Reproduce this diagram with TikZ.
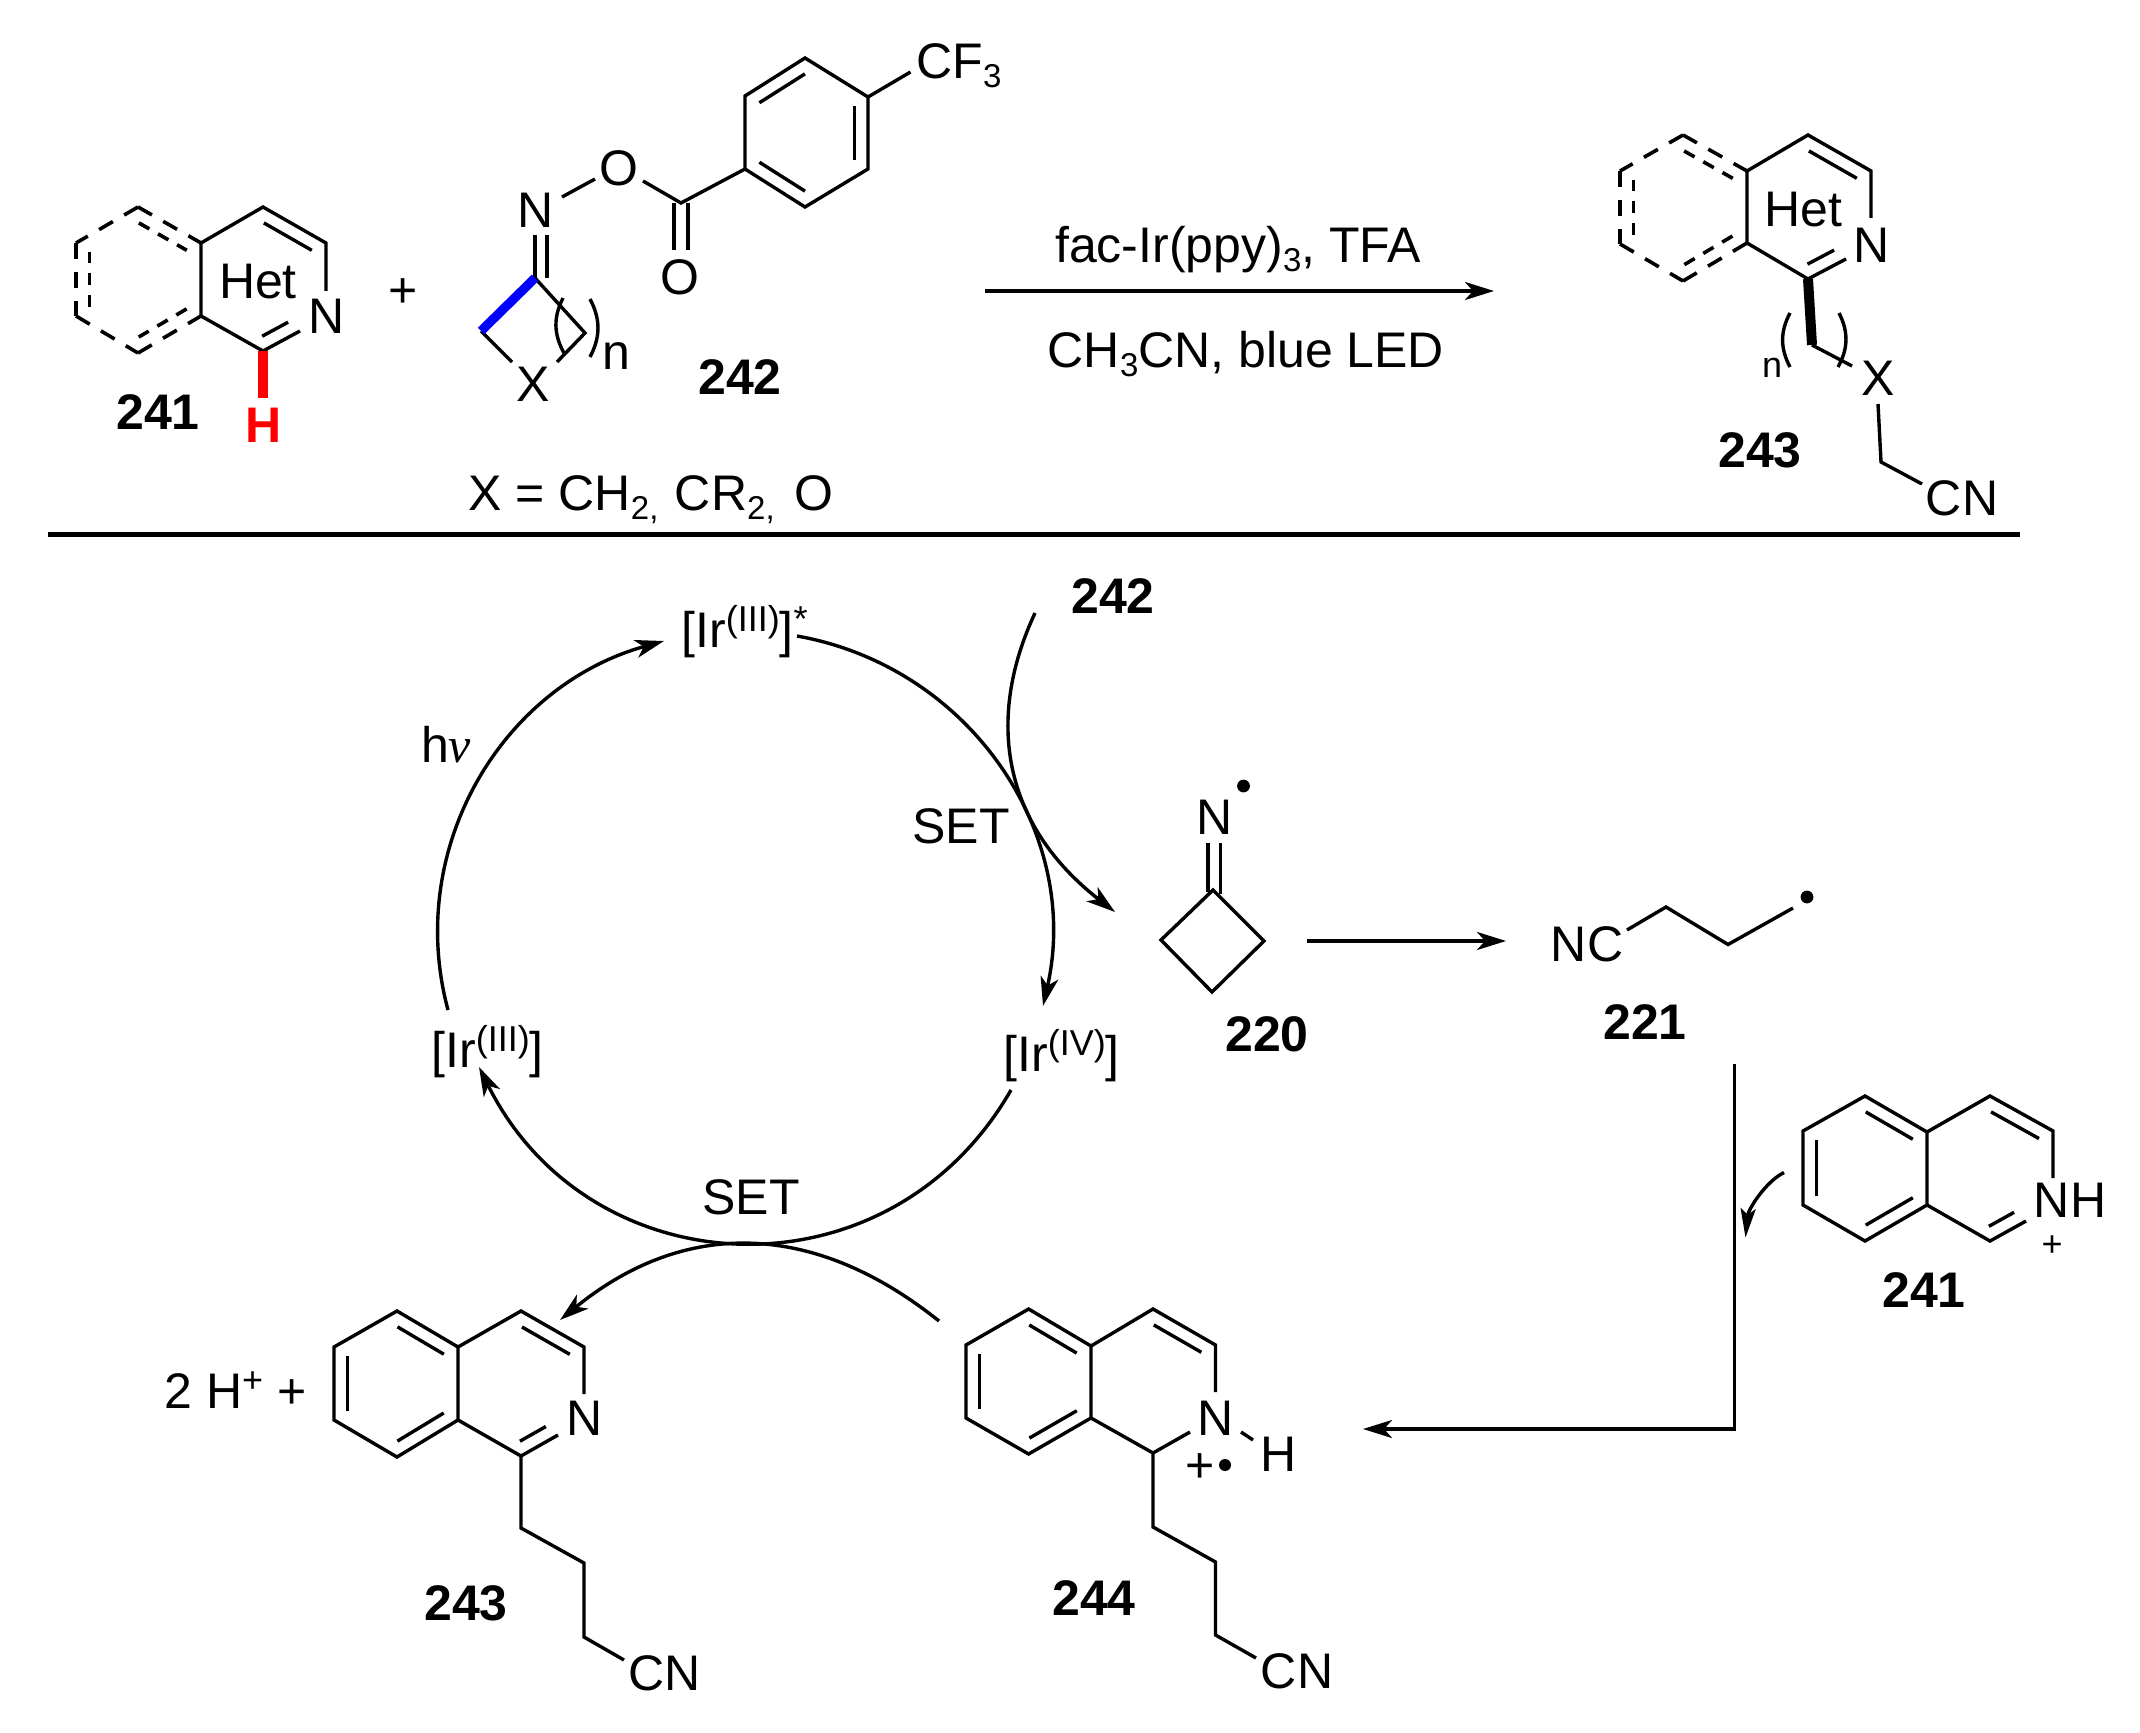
\documentclass[tikz,border=0pt]{standalone}
\usepackage{fontspec}
\setmainfont{Liberation Sans}
\newfontfamily\serifnu{Liberation Serif}
\usetikzlibrary{arrows.meta,calc}
\newcommand\txs[1]{\raisebox{-4.5pt}{\fontsize{16.5}{16.5}\selectfont #1}}
\newcommand\irsup[1]{\raisebox{8pt}{\fontsize{18}{18}\selectfont #1}}
\newcommand\coords[1]{\foreach \n/\x/\y in {#1} {\coordinate (\n) at (\x,\y);}}
% parallel inner line of a double bond: from a to b, kept s..1-s of its length, d to the left
\newcommand\inb[5][bond]{\draw[#1] ($(#2)!#4!(#3)!#5!90:(#3)$) -- ($(#2)!1-#4!(#3)!#5!90:(#3)$);}
\tikzset{
  bond/.style={line width=1.7pt},
  dbond/.style={line width=1.8pt,dash pattern=on 8pt off 6.5pt},
  dinner/.style={line width=1.8pt,dash pattern=on 6pt off 5pt},
  rxn/.style={line width=1.7pt,-{Stealth[length=14.5pt,width=9pt,inset=4pt]}},
  plain/.style={line width=1.7pt},
  lab/.style={inner sep=0pt,font=\fontsize{25}{27}\selectfont},
  num/.style={inner sep=0pt,font=\fontsize{25}{27}\selectfont\bfseries},
  small/.style={inner sep=0pt,font=\fontsize{18}{18}\selectfont},
  raddot/.style={circle,fill=black,inner sep=0pt,minimum size=6.4pt},
}
\begin{document}
\begin{tikzpicture}[x=0.5pt,y=-0.5pt]
\useasboundingbox (0,0) rectangle (2140,1733);
\fill[white] (0,0) rectangle (2140,1733);

%% ---------- substrate 241 (top) ----------
\coords{at/263/207,ar/326/243,aNe/326/291,ab/263/351,acn/300/331,ajb/201/316,ajt/201/243,alt/138/207,al1/76/243,al2/76/316,alb/138/353,aHe/263/398}
\node[lab] (aN) at (327,316) {N};
\node[lab] (aHet) at (258,282) {Het};
\node[num] (n241a) at (158,412) {241};
\node[num,text=red] (aH) at (264,425) {H};
\draw[bond] (ajb) -- (ajt) -- (at) -- (ar) -- (aNe);
\draw[bond] (acn) -- (ab) -- (ajb);
\inb{at}{ar}{.12}{-6.7pt}
\inb{ab}{acn}{.15}{6.7pt}
\draw[dbond] (alt) -- (ajt);
\draw[dbond] (alt) -- (al1);
\draw[dbond] (al1) -- (al2);
\draw[dbond] (al2) -- (alb);
\draw[dbond] (alb) -- (ajb);
\inb[dinner]{alt}{ajt}{.12}{-6.7pt}
\inb[dinner]{al2}{al1}{.12}{-6.7pt}
\inb[dinner]{ajb}{alb}{.12}{-6.7pt}
\draw[line width=5pt,red] (ab) -- (aHe);
\node[lab] (plus1) at (403.5,293) {+};

%% ---------- oxime ester 242 ----------
\coords{bc/535/278,bNe/535/235,bNo/562/197,bOn/595/179,bOc/643/181,bco/681/203,bOe/681/250,b1/745/96,b2/805/58,b3/868/97,b4/868/169,b5/805/207,b6/745/169,bcf/910.5/72,bl/481/331,blx/512/362,br/585/333,brx/557/362,bp1/563/298,bp2/564/353,bq1/590/299,bq2/590/357}
\node[lab] (bN) at (536,210) {N};
\node[lab] (bO) at (619,168) {O};
\node[lab] (bO2) at (680,277) {O};
\node[lab,anchor=base west] (bCF) at (916,79) {CF\txs{3}};
\node[lab] (bX) at (533,384) {X};
\node[lab] (bn) at (616,356) {n};
\node[num] (n242a) at (740,377) {242};
\node[lab,anchor=base west] (xdef) at (468,510) {X = CH\txs{2,}\hspace{1.3pt} CR\txs{2,}\hspace{3pt} O};
\draw[bond] (bNo) -- (bOn);
\draw[bond] (bOc) -- (bco) -- (b6);
\draw[bond] (b6) -- (b1) -- (b2) -- (b3) -- (b4) -- (b5) -- cycle;
\draw[bond] (b3) -- (bcf);
\inb{b1}{b2}{.12}{-6.7pt}
\inb{b3}{b4}{.12}{-6.7pt}
\inb{b5}{b6}{.12}{-6.7pt}
\draw[bond] ([xshift=-3.5pt]bco) -- ([xshift=-3.5pt]bOe);
\draw[bond] ([xshift=3.5pt]bco) -- ([xshift=3.5pt]bOe);
\draw[bond] (bc) -- (bNe);
\draw[bond] ([xshift=6pt]bc) -- ([xshift=6pt]bNe);
\draw[bond] (bl) -- (blx);
\draw[bond] (bc) -- (br) -- (brx);
\draw[line width=4.6pt,blue] (bc) -- (bl);
\draw[plain] (bp1) to[bend right=28] (bp2);
\draw[plain] (bq1) to[bend left=28] (bq2);

%% ---------- reaction arrow ----------
\coords{ra1/985/291,ra2/1494/291,hl1/48/534,hl2/2020/534}
\draw[rxn] (ra1) -- (ra2);
\node[lab,anchor=base] (cond1) at (1238,263) {fac-Ir(ppy)\txs{3}, TFA};
\node[lab,anchor=base] (cond2) at (1246,368) {CH\txs{3}CN, blue LED};
\draw[line width=2.5pt] (hl1) -- (hl2);

%% ---------- product 243 (top) ----------
\coords{ct/1808/135,cr/1871/171,cNe/1871/218,cb/1808/279,ccn/1846/259,cjb/1747/243,cjt/1747/171,clt/1683/135,cl1/1620/171,cl2/1620/244,clb/1683/281,cch/1812/345,cxe/1852/366,cxs/1878/404,cxm/1881/462,ccne/1922/484,cp1/1790/313,cp2/1790/367,cq1/1839/313,cq2/1838/367}
\node[lab] (cN) at (1872,245) {N};
\node[lab] (cHet) at (1803,210) {Het};
\node[lab] (cX) at (1878,378) {X};
\node[lab] (cCN) at (1962,498) {CN};
\node[num] (n243a) at (1760,450) {243};
\node[small] (cn) at (1772,368) {n};
\draw[bond] (cjb) -- (cjt) -- (ct) -- (cr) -- (cNe);
\draw[bond] (ccn) -- (cb) -- (cjb);
\inb{ct}{cr}{.12}{-6.7pt}
\inb{cb}{ccn}{.15}{6.7pt}
\draw[dbond] (clt) -- (cjt);
\draw[dbond] (clt) -- (cl1);
\draw[dbond] (cl1) -- (cl2);
\draw[dbond] (cl2) -- (clb);
\draw[dbond] (clb) -- (cjb);
\inb[dinner]{clt}{cjt}{.12}{-6.7pt}
\inb[dinner]{cl2}{cl1}{.12}{-6.7pt}
\inb[dinner]{cjb}{clb}{.12}{-6.7pt}
\draw[line width=5pt] (cb) -- (cch);
\draw[bond] (cch) -- (cxe);
\draw[bond] (cxs) -- (cxm) -- (ccne);
\draw[plain] (cp1) to[bend right=28] (cp2);
\draw[plain] (cq1) to[bend left=28] (cq2);

%% ---------- catalytic cycle ----------
\node[lab,anchor=base west] (ir3s) at (681,647) {[Ir\irsup{(III)}]\irsup{*}};
\node[lab,anchor=base west] (ir4) at (1003,1071) {[Ir\irsup{(IV)}]};
\node[lab,anchor=base west] (ir3) at (431,1067) {[Ir\irsup{(III)}]};
\node[lab] (hnu) at (446,745) {h{\serifnu\itshape ν}};
\node[lab] (set1) at (961,826) {SET};
\node[lab] (set2) at (751,1197) {SET};
\node[num] (n242b) at (1113,596) {242};
\coords{e1a/448/1010,e1b/664/641,e2a/797/636,e2b/1043/1006,e3a/1011/1090,e3b/479/1067,e4a/1035/613,e4b/1115/912,e5a/939/1321,e5b/560/1320}
\draw[rxn] (e1a) .. controls (404.5,848) and (502,686) .. (e1b);
\draw[rxn] (e2a) .. controls (971,667) and (1082,834.5) .. (e2b);
\draw[rxn] (e3a) .. controls (888,1304) and (589,1289) .. (e3b);
\draw[rxn] (e4a) .. controls (985,720) and (1003,825) .. (e4b);
\draw[rxn] (e5a) .. controls (814,1221) and (685,1218) .. (e5b);

%% ---------- radical 220 ----------
\coords{dt/1213/890,dr/1264/941,db/1212/992,dl/1161/940,dNa/1208/843,dNb/1208/892,dNc/1220.5/843,dNd/1220.5/894}
\node[lab] (dN) at (1215,817) {N};
\node[raddot] (ddot) at (1243.5,786) {};
\node[num] (n220) at (1267,1034) {220};
\draw[bond] (dt) -- (dr) -- (db) -- (dl) -- cycle;
\draw[bond] (dNa) -- (dNb);
\draw[bond] (dNc) -- (dNd);

%% ---------- radical 221 ----------
\coords{f0/1627/930,f1/1666/907,f2/1728/944.5,f3/1793/908,g1/1307/941,g2/1506/941}
\draw[rxn] (g1) -- (g2);
\node[lab] (fNC) at (1587,944) {NC};
\node[raddot] (fdot) at (1807,897) {};
\node[num] (n221) at (1645,1022) {221};
\draw[bond] (f0) -- (f1) -- (f2) -- (f3);

%% ---------- elbow arrow 221 -> 244 ----------
\coords{h1/1734.6/1064,h2/1734.6/1429,h3/1363/1429,k1/1784/1172.5,k2/1745.5/1237.6}
\draw[rxn] (h1) -- (h2) -- (h3);
\draw[line width=1.7pt,-{Stealth[length=14.5pt,width=7.5pt,inset=3pt]}] (k1) .. controls (1765,1182) and (1748,1210) .. (k2);

%% ---------- protonated isoquinoline 241 ----------
\coords{p1/1865/1096,p2/1927/1132,p3/1990/1096,p4/2053/1131,p5/2053/1178,p6/1990/1241,p7/1927/1205,p8/1865/1241,p9/1803/1205,p10/1803/1131,p11/2026/1221}
\node[lab] (pNH) at (2070,1200) {NH};
\node[small] (pplus) at (2052,1246) {+};
\node[num] (n241b) at (1924,1290) {241};
\draw[bond] (p2) -- (p1) -- (p10) -- (p9) -- (p8) -- (p7) -- cycle;
\draw[bond] (p2) -- (p3) -- (p4) -- (p5);
\draw[bond] (p11) -- (p6) -- (p7);
\inb{p1}{p2}{.12}{-6.7pt}
\inb{p9}{p10}{.12}{-6.7pt}
\inb{p7}{p8}{.12}{-6.7pt}
\inb{p3}{p4}{.12}{-6.7pt}
\inb{p6}{p11}{.15}{6.7pt}

%% ---------- radical cation 244 ----------
\coords{q1/1028.6/1309,q2/1091/1346,q3/1153/1309,q4/1215.5/1345,q5/1215.5/1392,q6/1153/1453,q7/1091/1418,q8/1028.6/1454,q9/966/1418,q10/966/1345,q11/1190/1432,qh1/1241/1432,qh2/1253/1440,qc1/1153/1527,qc2/1215.5/1562,qc3/1215.5/1635,qc4/1256/1658}
\node[lab] (qN) at (1215.5,1418) {N};
\node[lab] (qH) at (1279,1454) {H};
\node[lab] (qplus) at (1200,1468) {+};
\node[raddot,minimum size=6pt] (qdot) at (1225,1465) {};
\node[lab] (qCN) at (1297,1671) {CN};
\node[num] (n244) at (1094,1598) {244};
\draw[bond] (q2) -- (q1) -- (q10) -- (q9) -- (q8) -- (q7) -- cycle;
\draw[bond] (q2) -- (q3) -- (q4) -- (q5);
\draw[bond] (q11) -- (q6) -- (q7);
\draw[bond] (qh1) -- (qh2);
\draw[bond] (q6) -- (qc1) -- (qc2) -- (qc3) -- (qc4);
\inb{q1}{q2}{.12}{-6.7pt}
\inb{q9}{q10}{.12}{-6.7pt}
\inb{q7}{q8}{.12}{-6.7pt}
\inb{q3}{q4}{.12}{-6.7pt}

%% ---------- product 243 (bottom) ----------
\coords{s1/397/1311,s2/458/1347,s3/521/1311,s4/584/1347,s5/584/1394,s6/521/1456,s7/458/1420,s8/397/1457,s9/334/1420,s10/334/1347,s11/558/1435,sc1/521/1528,sc2/584/1563,sc3/584/1637,sc4/624/1660}
\node[lab] (sN) at (585,1418) {N};
\node[lab] (sCN) at (664.5,1673) {CN};
\node[num] (n243b) at (466,1603) {243};
\node[lab,anchor=base west] (stwo) at (164,1408) {2 H\raisebox{8pt}{\fontsize{18}{18}\selectfont +} +};
\draw[bond] (s2) -- (s1) -- (s10) -- (s9) -- (s8) -- (s7) -- cycle;
\draw[bond] (s2) -- (s3) -- (s4) -- (s5);
\draw[bond] (s11) -- (s6) -- (s7);
\draw[bond] (s6) -- (sc1) -- (sc2) -- (sc3) -- (sc4);
\inb{s1}{s2}{.12}{-6.7pt}
\inb{s9}{s10}{.12}{-6.7pt}
\inb{s7}{s8}{.12}{-6.7pt}
\inb{s3}{s4}{.12}{-6.7pt}
\inb{s6}{s11}{.15}{6.7pt}
\end{tikzpicture}
\end{document}
